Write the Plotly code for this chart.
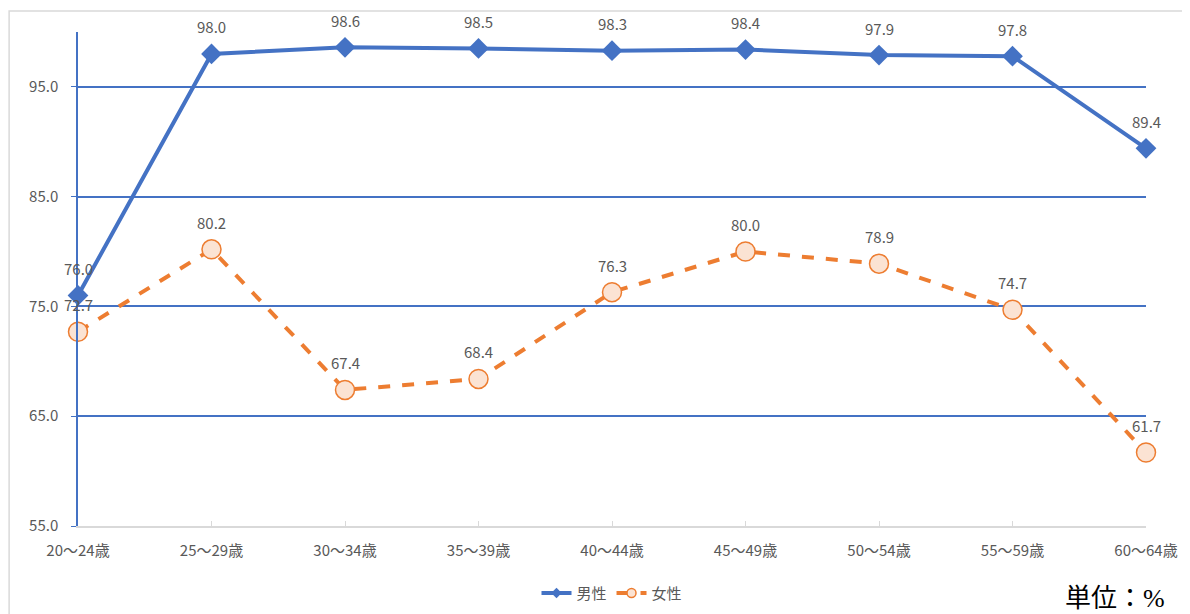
import plotly.graph_objects as go

categories = ["20～24歳", "25～29歳", "30～34歳", "35～39歳", "40～44歳",
              "45～49歳", "50～54歳", "55～59歳", "60～64歳"]
male = [76.0, 98.0, 98.6, 98.5, 98.3, 98.4, 97.9, 97.8, 89.4]
female = [72.7, 80.2, 67.4, 68.4, 76.3, 80.0, 78.9, 74.7, 61.7]
ytick_vals = [55, 65, 75, 85, 95]
ytick_text = ["55.0", "65.0", "75.0", "85.0", "95.0"]

BLUE = "#4472C4"
ORANGE = "#ED7D31"
PEACH = "#FBE3D3"
GRAY = "#595959"
FONT = "Noto Sans CJK JP"

fig = go.Figure()
fig.add_trace(go.Scatter(
    x=categories, y=male, name="男性", mode="lines+markers",
    line=dict(color=BLUE, width=4),
    marker=dict(symbol="diamond", size=16, color=BLUE),
    showlegend=False, cliponaxis=False,
))
fig.add_trace(go.Scatter(
    x=categories, y=female, name="女性", mode="lines+markers",
    line=dict(color=ORANGE, width=4, dash="dash"),
    marker=dict(symbol="circle", size=19, color=PEACH,
                line=dict(color=ORANGE, width=1.5)),
    showlegend=False, cliponaxis=False,
))
# legend entries with small markers (as in the reference legend)
fig.add_trace(go.Scatter(
    x=[None], y=[None], name="男性", mode="lines+markers",
    line=dict(color=BLUE, width=4),
    marker=dict(symbol="diamond", size=8, color=BLUE),
))
fig.add_trace(go.Scatter(
    x=[None], y=[None], name="女性", mode="lines+markers",
    line=dict(color=ORANGE, width=4, dash="dash"),
    marker=dict(symbol="circle", size=9, color=PEACH,
                line=dict(color=ORANGE, width=1.5)),
))

# data labels
for series in (male, female):
    for c, v in zip(categories, series):
        fig.add_annotation(x=c, y=v, text=f"{v:.1f}", showarrow=False,
                           yshift=27, xanchor="center", yanchor="middle",
                           font=dict(family=FONT, size=15, color=GRAY))

# light gray chart border
fig.add_shape(type="rect", xref="paper", yref="paper",
              x0=-0.0645, x1=1.2, y0=-0.3, y1=1.0425,
              line=dict(color="#D9D9D9", width=1.5), fillcolor="rgba(0,0,0,0)",
              layer="below")

fig.add_annotation(text="単位：%", xref="paper", yref="paper",
                   x=0.971, y=-0.146, xanchor="center", yanchor="middle",
                   showarrow=False,
                   font=dict(family="Liberation Serif, Noto Sans CJK JP", size=26, color="#000000"))

fig.update_layout(
    width=1182, height=606,
    margin=dict(l=70, r=44, t=24, b=88, autoexpand=False),
    paper_bgcolor="white", plot_bgcolor="white",
    font=dict(family=FONT, color=GRAY, size=15),
    showlegend=True,
    legend=dict(orientation="h", x=0.5, xanchor="center", y=-0.136, yanchor="middle",
                font=dict(size=15, color=GRAY, family=FONT)),
    xaxis=dict(
        type="category", range=[0, 8], automargin=False,
        showline=True, linecolor="#D9D9D9", linewidth=1.5,
        ticks="inside", ticklen=5, tickcolor="#D9D9D9",
        ticklabelstandoff=10,
        showgrid=False, tickfont=dict(size=15, color=GRAY),
    ),
    yaxis=dict(
        range=[55, 100], tickvals=ytick_vals, ticktext=ytick_text, automargin=False,
        showline=True, linecolor=BLUE, linewidth=1.5,
        ticks="outside", ticklen=5, tickcolor=BLUE,
        ticklabelstandoff=10,
        showgrid=True, gridcolor=BLUE, gridwidth=1.5,
        zeroline=False, tickfont=dict(size=15, color=GRAY),
    ),
)

fig.write_html("out.html")
